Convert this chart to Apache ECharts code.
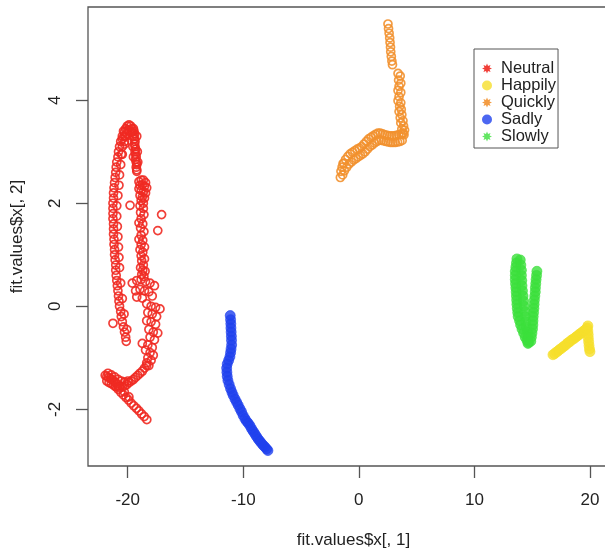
<!DOCTYPE html>
<html>
<head>
<meta charset="utf-8">
<script src="https://cdn.jsdelivr.net/npm/echarts@6/dist/echarts.min.js"></script>
<style>
  html, body { margin: 0; padding: 0; background: #fff; }
  #main { width: 605px; height: 554px; }
</style>
</head>
<body>
<div id="main"></div>
<script>
var xTicks = [-20, -10, 0, 10, 20];
var yTicks = [-2, 0, 2, 4];
var groups = ['Neutral', 'Happily', 'Quickly', 'Sadly', 'Slowly'];

// Neutral: left arm, top cap, right arm, middle column, bottom "Y"
var neutralPts = [
  [-20.37,3.40],[-20.47,3.30],[-20.61,3.20],[-20.71,3.10],[-20.80,3.00],[-20.85,2.90],[-20.95,2.80],[-21.0,2.70],
  [-21.04,2.60],[-21.09,2.50],[-21.14,2.40],[-21.19,2.30],[-21.23,2.20],[-21.23,2.10],[-21.28,2.00],[-21.28,1.90],
  [-21.28,1.80],[-21.28,1.70],[-21.23,1.60],[-21.23,1.50],[-21.23,1.40],[-21.19,1.30],[-21.19,1.20],[-21.14,1.10],
  [-21.14,1.00],[-21.09,0.90],[-21.04,0.80],[-21.04,0.70],[-21.0,0.60],[-20.95,0.50],[-20.90,0.40],[-20.85,0.30],
  [-20.80,0.20],[-20.76,0.10],[-20.71,0.00],[-20.61,-0.10],[-20.56,-0.20],[-20.47,-0.30],[-20.37,-0.40],[-20.28,-0.50],
  [-20.18,-0.60],[-20.13,-0.68],
  [-20.08,3.35],[-20.28,3.15],[-20.47,2.95],[-20.61,2.75],[-20.71,2.55],[-20.76,2.35],[-20.85,2.15],[-20.95,1.95],
  [-20.95,1.75],[-20.90,1.55],[-20.85,1.35],[-20.80,1.15],[-20.76,0.95],[-20.71,0.75],[-20.61,0.45],[-20.47,0.15],
  [-20.32,-0.15],[-20.08,-0.45],[-21.28,-0.33],
  [-20.18,3.45],[-20.04,3.50],[-19.89,3.52],[-19.75,3.50],[-19.65,3.45],[-19.61,3.38],[-20.28,3.38],[-19.99,3.42],
  [-19.85,3.40],[-19.70,3.38],[-20.47,3.25],[-20.28,3.30],[-20.47,3.10],[-20.28,3.20],[-20.56,2.95],[-20.18,3.30],
  [-19.51,3.45],[-19.46,3.40],[-19.41,3.35],[-19.46,3.30],[-19.41,3.25],[-19.37,3.20],[-19.41,3.15],[-19.37,3.10],
  [-19.32,3.05],[-19.37,3.00],[-19.32,2.95],[-19.27,2.90],[-19.32,2.85],[-19.27,2.80],[-19.22,2.75],[-19.27,2.70],
  [-19.22,2.65],[-19.22,2.62],[-19.61,3.30],[-19.22,3.30],[-19.56,3.10],[-19.17,3.00],[-19.51,2.90],[-19.13,2.80],
  [-19.03,2.42],[-18.84,2.45],[-18.65,2.45],[-18.46,2.40],[-18.94,2.35],[-18.74,2.36],[-18.55,2.33],[-18.36,2.30],
  [-19.03,2.28],[-18.84,2.25],[-18.65,2.22],[-18.46,2.20],[-18.94,2.15],[-18.74,2.12],[-18.55,2.10],[-18.84,2.05],
  [-18.65,2.00],
  [-18.94,1.95],[-18.65,1.90],[-18.89,1.82],[-18.60,1.78],[-18.84,1.70],[-19.03,1.62],[-18.70,1.60],[-18.89,1.52],
  [-18.60,1.45],[-18.84,1.38],[-19.03,1.30],[-18.70,1.28],[-18.84,1.20],[-18.55,1.15],[-18.94,1.10],[-18.70,1.05],
  [-18.84,0.98],[-18.55,0.92],[-18.79,0.88],[-18.65,0.80],[-18.89,0.75],[-18.70,0.70],[-18.50,0.68],[-18.79,0.62],
  [-18.60,0.58],
  [-17.07,1.78],[-17.40,1.47],[-19.80,1.96],
  [-19.61,0.45],[-19.22,0.50],[-18.84,0.52],[-18.46,0.48],[-18.07,0.45],[-17.69,0.40],[-19.32,0.30],[-18.94,0.33],
  [-18.55,0.30],[-18.17,0.28],[-19.22,0.18],[-18.74,0.16],[-17.88,0.20],
  [-18.36,0.05],[-17.98,0.00],[-17.59,-0.02],[-17.21,-0.05],[-18.26,-0.12],[-17.88,-0.15],[-17.50,-0.20],[-18.36,-0.28],
  [-17.98,-0.30],[-17.59,-0.35],[-18.17,-0.45],[-17.79,-0.50],[-17.40,-0.52],[-18.07,-0.60],[-17.69,-0.65],[-18.74,-0.72],
  [-18.26,-0.75],[-17.88,-0.80],[-18.46,-0.85],[-18.07,-0.90],[-17.79,-0.95],[-18.26,-1.00],[-17.98,-1.05],[-18.36,-1.10],
  [-18.17,-1.15],
  [-21.95,-1.34],[-21.81,-1.36],[-21.67,-1.38],[-21.52,-1.40],[-21.38,-1.42],[-21.23,-1.45],[-21.09,-1.47],[-20.95,-1.50],
  [-21.81,-1.45],[-21.62,-1.48],[-21.43,-1.50],[-21.23,-1.53],[-21.04,-1.56],[-20.85,-1.55],[-20.66,-1.55],[-20.47,-1.56],
  [-20.28,-1.55],[-20.08,-1.52],[-19.89,-1.48],[-19.70,-1.45],[-19.51,-1.42],[-19.32,-1.38],[-19.13,-1.34],[-18.94,-1.30],
  [-18.74,-1.26],[-18.55,-1.20],[-18.36,-1.15],
  [-21.71,-1.30],[-21.43,-1.33],[-21.14,-1.37],[-20.85,-1.42],[-20.56,-1.45],[-20.28,-1.47],[-19.99,-1.45],
  [-21.05,-1.56],[-20.83,-1.61],[-20.60,-1.67],[-20.38,-1.72],[-20.15,-1.77],[-19.93,-1.82],[-19.70,-1.88],[-19.48,-1.93],
  [-19.25,-1.98],[-19.03,-2.03],[-18.80,-2.09],[-18.58,-2.14],[-18.35,-2.20],[-20.70,-1.58],[-20.30,-1.66],[-19.90,-1.76]
];

var happilyPts = [
  [16.80,-0.94],[16.94,-0.92],[17.09,-0.89],[17.23,-0.87],[17.37,-0.84],[17.52,-0.82],[17.66,-0.79],[17.80,-0.77],
  [17.95,-0.74],[18.09,-0.71],[18.24,-0.69],[18.38,-0.66],[18.52,-0.64],[18.67,-0.62],[18.81,-0.59],[18.95,-0.57],
  [19.10,-0.54],[19.24,-0.52],[19.39,-0.49],[19.53,-0.47],[19.67,-0.44],[19.77,-0.42],[19.82,-0.38],
  [19.82,-0.48],[19.85,-0.55],[19.86,-0.62],[19.89,-0.69],[19.92,-0.76],[19.96,-0.83],[20.00,-0.88]
];

var quicklyPts = [
  [2.52,5.48],[2.57,5.39],[2.62,5.30],[2.67,5.21],[2.70,5.12],[2.74,5.03],[2.76,4.94],[2.81,4.85],[2.86,4.76],[2.91,4.69],
  [3.39,4.52],[3.58,4.47],[3.44,4.39],[3.63,4.33],[3.48,4.27],[3.39,4.19],[3.63,4.15],[3.48,4.07],[3.39,3.99],[3.63,3.95],
  [3.53,3.88],[3.67,3.82],[3.48,3.78],[3.72,3.72],[3.58,3.66],[3.82,3.60],[3.63,3.56],[3.87,3.50],[3.72,3.44],[3.96,3.42],
  [3.77,3.36],[3.91,3.33],
  [3.85,3.36],[3.65,3.34],[3.45,3.33],[3.25,3.32],[3.05,3.31],[2.85,3.31],[2.65,3.31],[2.45,3.32],[2.25,3.33],[2.05,3.35],
  [1.85,3.36],[1.65,3.36],[1.45,3.34],[1.25,3.31],[1.05,3.28],[0.85,3.25],[0.65,3.20],[0.45,3.15],[0.25,3.10],[0.05,3.07],
  [-0.15,3.05],[-0.35,3.02],[-0.55,2.99],[-0.75,2.96],[-0.95,2.91],[-1.15,2.85],[-1.30,2.78],[-1.45,2.70],[-1.55,2.62],
  [3.75,3.22],[3.55,3.20],[3.35,3.19],[3.15,3.18],[2.95,3.18],[2.75,3.18],[2.55,3.19],[2.35,3.20],[2.15,3.21],[1.95,3.22],
  [1.75,3.22],[1.55,3.20],[1.35,3.17],[1.15,3.13],[0.95,3.10],[0.75,3.05],[0.55,3.00],[0.35,2.96],[0.15,2.93],[-0.05,2.90],
  [-0.25,2.87],[-0.45,2.84],[-0.65,2.80],[-0.85,2.76],[-1.05,2.70],[-1.25,2.63],[-1.40,2.55],[-1.60,2.50],[-1.37,2.77]
];

var sadlyPts = [
  [-11.13,-0.18],[-11.10,-0.26],[-11.08,-0.34],[-11.07,-0.42],[-11.05,-0.50],[-11.03,-0.58],[-11.02,-0.66],[-11.01,-0.75],
  [-11.06,-0.83],[-11.10,-0.90],[-11.16,-0.98],[-11.27,-1.05],[-11.39,-1.12],[-11.44,-1.20],[-11.42,-1.28],[-11.39,-1.36],
  [-11.33,-1.44],[-11.22,-1.52],[-11.10,-1.60],[-10.98,-1.67],[-10.87,-1.73],[-10.72,-1.80],[-10.58,-1.86],[-10.44,-1.92],
  [-10.29,-1.99],[-10.15,-2.05],[-10.01,-2.12],[-9.86,-2.18],[-9.72,-2.23],[-9.57,-2.27],[-9.42,-2.32],[-9.28,-2.38],
  [-9.13,-2.43],[-8.99,-2.48],[-8.85,-2.53],[-8.70,-2.58],[-8.56,-2.62],[-8.42,-2.66],[-8.27,-2.70],[-8.13,-2.73],
  [-7.98,-2.77],[-7.87,-2.80]
];

var slowlyPts = [
  [13.68,0.92],[13.64,0.84],[13.59,0.76],[13.54,0.68],[13.54,0.60],[13.54,0.52],[13.56,0.44],[13.59,0.36],[13.62,0.28],
  [13.64,0.20],[13.66,0.12],[13.68,0.04],[13.71,-0.04],[13.75,-0.12],[13.79,-0.20],[13.91,-0.28],[14.00,-0.36],[14.12,-0.44],
  [14.26,-0.52],[14.40,-0.60],[14.55,-0.66],[14.64,-0.72],
  [13.97,0.90],[14.02,0.80],[14.07,0.70],[14.07,0.60],[14.10,0.50],[14.12,0.40],[14.16,0.30],[14.21,0.20],[14.26,0.10],
  [14.31,0.00],[14.36,-0.10],[14.40,-0.20],[14.45,-0.30],[14.50,-0.40],[14.60,-0.50],[14.64,-0.60],[14.69,-0.70],
  [15.41,0.68],[15.38,0.60],[15.34,0.52],[15.31,0.44],[15.28,0.36],[15.27,0.28],[15.23,0.20],[15.19,0.12],[15.17,0.04],
  [15.15,-0.04],[15.12,-0.12],[15.09,-0.20],[15.07,-0.28],[15.06,-0.36],[15.03,-0.44],[14.98,-0.52],[14.93,-0.60],[14.88,-0.68]
];

var colors = {
  Neutral: '#ef2a22',
  Happily: '#f6df2c',
  Quickly: '#f2912f',
  Sadly: '#1f41ee',
  Slowly: '#3ce03c'
};

var star = 'path://M20 10 L15.08 7.89 L17.07 2.93 L12.1 4.92 L10 0 L7.9 4.92 L2.93 2.93 L4.92 7.89 L0 10 L4.92 12.11 L2.93 17.07 L7.9 15.08 L10 20 L12.1 15.08 L17.07 17.07 L15.08 12.11 Z';

var font = "'Liberation Sans', Arial, Helvetica, sans-serif";

var chart = echarts.init(document.getElementById('main'), null, { renderer: 'canvas' });

function hollow(name, data) {
  return {
    name: name, type: 'scatter', data: data, symbol: 'circle', symbolSize: 8,
    itemStyle: { color: 'rgba(255,255,255,0)', borderColor: colors[name], borderWidth: 1.7, opacity: 0.9 },
    emphasis: { disabled: true }
  };
}
function solid(name, data) {
  return {
    name: name, type: 'scatter', data: data, symbol: 'circle', symbolSize: 10,
    itemStyle: { color: colors[name], borderColor: colors[name], borderWidth: 0.8 },
    emphasis: { disabled: true }
  };
}

chart.setOption({
  animation: false,
  textStyle: { fontFamily: font },
  // the box runs past the right edge of the picture, as in the cropped original
  grid: {
    left: 88, width: 547, top: 7, height: 459,
    outerBoundsMode: 'none', containLabel: false,
    show: true, borderColor: '#555', borderWidth: 1.3, backgroundColor: 'transparent'
  },
  legend: {
    orient: 'vertical', left: 474, top: 49,
    padding: [11, 2, 3, 8], itemGap: 0, itemWidth: 10, itemHeight: 10,
    borderColor: '#555', borderWidth: 1, backgroundColor: '#fff',
    textStyle: { fontSize: 16.5, lineHeight: 16.7, color: '#222', fontFamily: font, padding: [0, 0, 0, 4] },
    data: [
      { name: 'Neutral', icon: star, itemStyle: { color: colors.Neutral, borderWidth: 0 } },
      { name: 'Happily', icon: 'circle', itemStyle: { color: colors.Happily, borderWidth: 0 } },
      { name: 'Quickly', icon: star, itemStyle: { color: colors.Quickly, borderWidth: 0 } },
      { name: 'Sadly', icon: 'circle', itemStyle: { color: colors.Sadly, borderWidth: 0 } },
      { name: 'Slowly', icon: star, itemStyle: { color: colors.Slowly, borderWidth: 0 } }
    ],
    selectedMode: false
  },
  xAxis: {
    type: 'value', min: -23.44, max: 23.9,
    name: 'fit.values$x[, 1]', nameLocation: 'middle', nameGap: 66,
    nameTextStyle: { fontSize: 17, color: '#222', fontFamily: font, padding: [0, 16, 0, 0] },
    axisLine: { show: false, onZero: false },
    axisTick: { show: true, inside: false, length: 12, customValues: xTicks, lineStyle: { color: '#555', width: 1.3 } },
    axisLabel: { customValues: xTicks, margin: 26, fontSize: 17, color: '#222', fontFamily: font },
    splitLine: { show: false }
  },
  yAxis: {
    type: 'value', min: -3.1, max: 5.81,
    name: 'fit.values$x[, 2]', nameLocation: 'middle', nameGap: 62,
    nameTextStyle: { fontSize: 17, color: '#222', fontFamily: font },
    axisLine: { show: false, onZero: false },
    axisTick: { show: true, inside: false, length: 12, customValues: yTicks, lineStyle: { color: '#555', width: 1.3 } },
    axisLabel: { customValues: yTicks, margin: 24, rotate: 90, fontSize: 17, color: '#222', fontFamily: font },
    splitLine: { show: false }
  },
  series: [
    hollow('Neutral', neutralPts),
    solid('Happily', happilyPts),
    hollow('Quickly', quicklyPts),
    solid('Sadly', sadlyPts),
    solid('Slowly', slowlyPts)
  ]
});
</script>
</body>
</html>
